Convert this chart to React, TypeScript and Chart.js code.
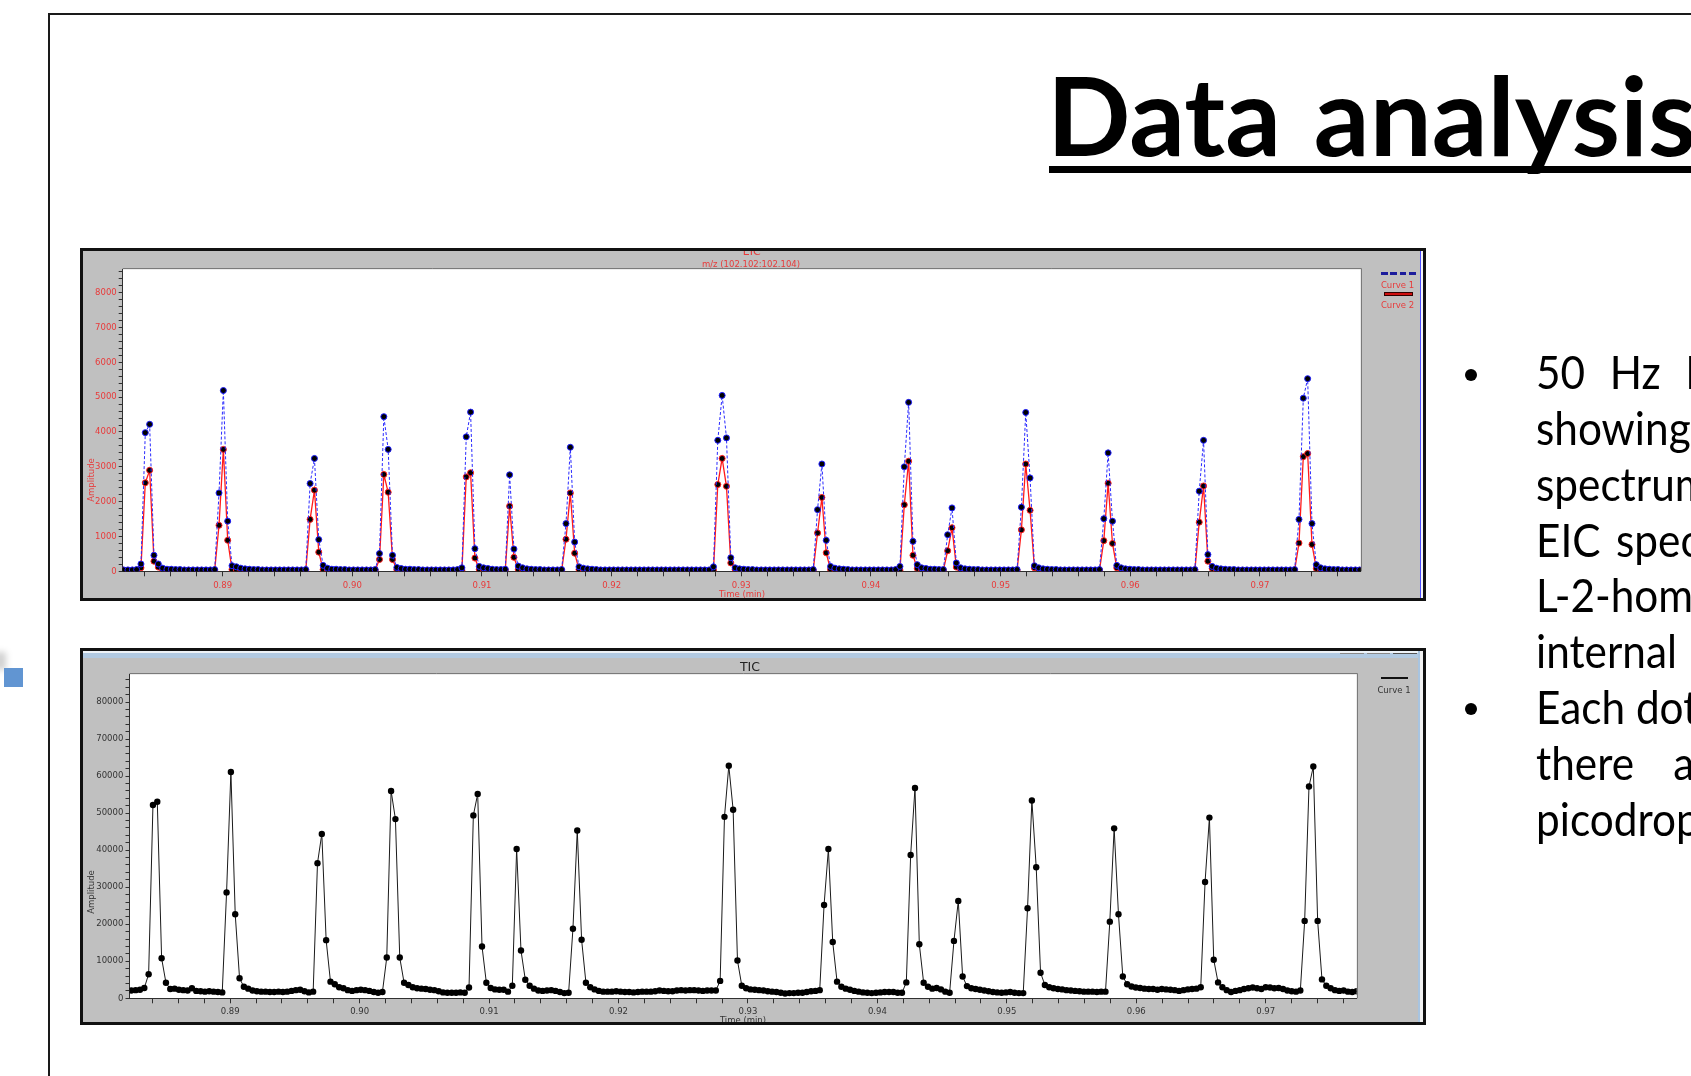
import React, { useEffect, useRef } from 'react';
import { Chart, registerables } from 'chart.js';

Chart.register(...registerables);

// ---- sampling grid (one scan every ~0.02 s) ----
const SAMPLE_START = 0.88236; // min
const SAMPLE_STEP = 0.0003345; // min

// ---- EIC m/z (102.102:102.104) ----
const eicCurve1 = [
  40, 40, 40, 50, 210, 3980, 4220, 460, 210, 90,
  60, 60, 50, 50, 40, 40, 40, 40, 40, 40,
  40, 50, 2250, 5190, 1440, 160, 130, 90, 70, 60,
  50, 50, 40, 40, 40, 40, 40, 40, 40, 40,
  40, 40, 50, 2520, 3240, 910, 170, 90, 60, 60,
  50, 50, 40, 40, 40, 40, 40, 40, 50, 510,
  4440, 3500, 460, 110, 80, 60, 60, 50, 50, 40,
  40, 40, 40, 40, 40, 40, 40, 50, 100, 3860,
  4570, 650, 140, 100, 80, 60, 50, 50, 60, 2770,
  640, 150, 100, 70, 60, 50, 50, 40, 40, 40,
  40, 50, 1370, 3560, 840, 130, 90, 70, 60, 50,
  40, 40, 40, 40, 40, 40, 40, 40, 40, 40,
  40, 40, 40, 40, 40, 40, 40, 40, 40, 40,
  40, 40, 40, 40, 40, 40, 130, 3760, 5050, 3830,
  390, 100, 70, 60, 50, 50, 40, 40, 40, 40,
  40, 40, 40, 40, 40, 40, 40, 40, 40, 50,
  1770, 3080, 890, 140, 90, 70, 60, 50, 40, 40,
  40, 40, 40, 40, 40, 40, 40, 40, 50, 140,
  3000, 4850, 860, 190, 100, 80, 60, 60, 50, 50,
  1050, 1820, 240, 100, 70, 60, 50, 50, 40, 40,
  40, 40, 40, 40, 40, 40, 50, 1840, 4560, 2680,
  160, 100, 70, 60, 50, 50, 40, 40, 40, 40,
  40, 40, 40, 40, 40, 50, 1510, 3400, 1440, 170,
  100, 70, 60, 50, 50, 40, 40, 40, 40, 40,
  40, 40, 40, 40, 40, 40, 40, 50, 2300, 3760,
  480, 140, 90, 70, 60, 50, 50, 40, 40, 40,
  40, 40, 40, 40, 40, 40, 40, 40, 40, 40,
  50, 1490, 4970, 5530, 1370, 190, 100, 70, 60, 50,
  50, 40, 40, 40, 40, 40,
];

const eicCurve2 = [
  30, 30, 30, 30, 100, 2540, 2900, 290, 120, 40,
  30, 30, 30, 30, 30, 30, 30, 30, 30, 30,
  30, 30, 1320, 3500, 890, 50, 40, 30, 30, 30,
  30, 30, 30, 30, 30, 30, 30, 30, 30, 30,
  30, 30, 30, 1490, 2330, 550, 50, 40, 30, 30,
  30, 30, 30, 30, 30, 30, 30, 30, 30, 340,
  2780, 2270, 340, 50, 40, 30, 30, 30, 30, 30,
  30, 30, 30, 30, 30, 30, 30, 30, 30, 2710,
  2830, 380, 50, 40, 30, 30, 30, 30, 30, 1870,
  400, 50, 40, 30, 30, 30, 30, 30, 30, 30,
  30, 30, 920, 2250, 520, 50, 40, 30, 30, 30,
  30, 30, 30, 30, 30, 30, 30, 30, 30, 30,
  30, 30, 30, 30, 30, 30, 30, 30, 30, 30,
  30, 30, 30, 30, 30, 30, 30, 2490, 3240, 2440,
  240, 50, 40, 30, 30, 30, 30, 30, 30, 30,
  30, 30, 30, 30, 30, 30, 30, 30, 30, 30,
  1100, 2120, 530, 50, 40, 30, 30, 30, 30, 30,
  30, 30, 30, 30, 30, 30, 30, 30, 30, 30,
  1910, 3160, 460, 80, 40, 30, 30, 30, 30, 30,
  590, 1250, 120, 40, 30, 30, 30, 30, 30, 30,
  30, 30, 30, 30, 30, 30, 30, 1190, 3080, 1750,
  100, 40, 30, 30, 30, 30, 30, 30, 30, 30,
  30, 30, 30, 30, 30, 30, 880, 2530, 800, 100,
  40, 30, 30, 30, 30, 30, 30, 30, 30, 30,
  30, 30, 30, 30, 30, 30, 30, 30, 1410, 2450,
  290, 80, 40, 30, 30, 30, 30, 30, 30, 30,
  30, 30, 30, 30, 30, 30, 30, 30, 30, 30,
  30, 810, 3290, 3380, 770, 80, 40, 30, 30, 30,
  30, 30, 30, 30, 30, 30,
];

// ---- TIC ----
const ticCurve1 = [
  2100, 2200, 2300, 2800, 6500, 52200, 53100, 10800, 4200, 2500,
  2600, 2300, 2200, 2100, 2700, 2000, 1900, 1800, 1900, 1800,
  1700, 1600, 28600, 61100, 22700, 5400, 3100, 2600, 2100, 1900,
  1800, 1800, 1700, 1700, 1800, 1700, 1800, 2000, 2200, 2300,
  1900, 1600, 1800, 36500, 44400, 15700, 4500, 3800, 3000, 2700,
  2200, 2000, 2200, 2300, 2200, 2000, 1700, 1500, 1700, 11000,
  56000, 48400, 11000, 4200, 3600, 3000, 2700, 2600, 2500, 2300,
  2200, 1900, 1600, 1500, 1500, 1500, 1600, 1500, 2900, 49400,
  55200, 14000, 4200, 2800, 2400, 2300, 2300, 1800, 3400, 40300,
  12900, 5000, 3400, 2600, 2100, 2000, 2100, 2200, 2000, 1700,
  1400, 1500, 18800, 45300, 15800, 4200, 3000, 2400, 2000, 1800,
  1800, 1800, 1900, 1800, 1700, 1700, 1600, 1700, 1800, 1800,
  1800, 1900, 2100, 2000, 1900, 1900, 2100, 2200, 2100, 2200,
  2200, 2100, 2000, 2100, 2100, 2100, 4700, 49000, 62800, 50900,
  10200, 3400, 2700, 2400, 2300, 2200, 2100, 1900, 1800, 1700,
  1500, 1300, 1400, 1400, 1500, 1500, 1700, 1900, 2000, 2200,
  25200, 40300, 15200, 4500, 3100, 2600, 2300, 2000, 1800, 1600,
  1500, 1400, 1500, 1600, 1700, 1700, 1700, 1500, 1500, 4300,
  38700, 56800, 14600, 4200, 3100, 2600, 2800, 2400, 1800, 1500,
  15500, 26300, 5900, 3300, 2700, 2500, 2300, 2100, 1900, 1700,
  1600, 1500, 1600, 1700, 1500, 1400, 1400, 24300, 53400, 35400,
  6900, 3600, 3000, 2700, 2500, 2400, 2200, 2100, 2000, 1900,
  1800, 1800, 1800, 1700, 1800, 1800, 20700, 45900, 22700, 5900,
  3800, 3200, 2900, 2800, 2600, 2500, 2500, 2300, 2500, 2400,
  2300, 2200, 2000, 2200, 2400, 2500, 2600, 3000, 31400, 48800,
  10400, 4300, 3000, 2200, 1700, 2000, 2200, 2500, 2700, 2900,
  2700, 2500, 3000, 2900, 2700, 2800, 2500, 2100, 1900, 1800,
  2100, 20900, 57200, 62600, 20900, 5100, 3400, 2700, 2200, 2000,
  2100, 1800, 1700, 1900, 1800, 1800,
];

// ---- axes ----
const EIC_TIME_RANGE = [0.88229, 0.97777];
const TIC_TIME_RANGE = [0.88222, 0.97703];
const TIME_MINOR_STEP = 0.002;
const EIC_AMP_MAX = 8670;
const EIC_AMP_MINOR = 200;
const EIC_AMP_LABELS = [0, 1000, 2000, 3000, 4000, 5000, 6000, 7000, 8000];
const TIC_AMP_MAX = 87500;
const TIC_AMP_MINOR = 2000;
const TIC_AMP_LABELS = [0, 10000, 20000, 30000, 40000, 50000, 60000, 70000, 80000];

const RED = '#e83a3a';
const DARK = '#333333';
const AXIS_FONT = 'DejaVu Sans';

function toPoints(values: number[]) {
  return values.map((v, i) => ({ x: SAMPLE_START + i * SAMPLE_STEP, y: v }));
}

const plotFrame = {
  id: 'plotFrame',
  beforeDraw(chart: any) {
    const { ctx, chartArea: a } = chart;
    ctx.save();
    ctx.fillStyle = '#c0c0c0';
    ctx.fillRect(0, 0, chart.width, chart.height);
    ctx.fillStyle = '#ffffff';
    ctx.fillRect(a.left, a.top, a.right - a.left, a.bottom - a.top);
    ctx.strokeStyle = '#7a7a7a';
    ctx.lineWidth = 1;
    ctx.beginPath();
    ctx.moveTo(a.left, Math.round(a.top) - 0.5);
    ctx.lineTo(Math.round(a.right) + 0.5, Math.round(a.top) - 0.5);
    ctx.lineTo(Math.round(a.right) + 0.5, a.bottom);
    ctx.stroke();
    ctx.restore();
  },
};

function timeAxis(range: number[], color: string, tickLength: number, padding: number) {
  return {
    type: 'linear',
    position: 'bottom',
    min: range[0],
    max: range[1],
    afterFit: (s: any) => {
      s.height = 20;
    },
    border: { display: true, color: '#303030', width: 1 },
    grid: { display: true, drawOnChartArea: false, drawTicks: true, tickLength, tickColor: '#303030', tickWidth: 1 },
    ticks: {
      stepSize: TIME_MINOR_STEP,
      autoSkip: false,
      includeBounds: false,
      maxRotation: 0,
      minRotation: 0,
      padding,
      color,
      font: { family: AXIS_FONT, size: 8.5 },
      callback: (v: any) => (Math.abs(v * 100 - Math.round(v * 100)) < 1e-6 ? Number(v).toFixed(2) : ''),
    },
  };
}

function ampAxis(max: number, minor: number, labels: number[], width: number, color: string, padding: number) {
  return {
    type: 'linear',
    position: 'left',
    min: 0,
    max,
    afterFit: (s: any) => {
      s.width = width;
    },
    afterBuildTicks: (s: any) => {
      const t: any[] = [];
      for (let v = 0; v <= max; v += minor) t.push({ value: v });
      s.ticks = t;
    },
    border: { display: true, color: '#303030', width: 1 },
    grid: { display: true, drawOnChartArea: false, drawTicks: true, tickLength: 4, tickColor: '#303030', tickWidth: 1 },
    ticks: {
      autoSkip: false,
      padding,
      color,
      font: { family: AXIS_FONT, size: 8.5 },
      callback: (v: any) => {
        const n = Math.round(Number(v));
        return labels.indexOf(n) >= 0 ? String(n) : '';
      },
    },
  };
}

function eicConfig(): any {
  return {
    type: 'line',
    data: {
      datasets: [
        {
          label: 'Curve 1',
          data: toPoints(eicCurve1),
          borderColor: '#2a2aff',
          borderWidth: 1,
          borderDash: [3, 2],
          pointRadius: 3,
          pointBackgroundColor: '#000000',
          pointBorderColor: '#2020ff',
          pointBorderWidth: 1,
          tension: 0,
          fill: false,
        },
        {
          label: 'Curve 2',
          data: toPoints(eicCurve2),
          borderColor: '#ff1a1a',
          borderWidth: 1.3,
          pointRadius: 3,
          pointBackgroundColor: '#000000',
          pointBorderColor: '#ff2020',
          pointBorderWidth: 1,
          tension: 0,
          fill: false,
        },
      ],
    },
    options: {
      animation: false,
      responsive: false,
      events: [],
      layout: { padding: { left: 0, top: 18.3, right: 62.3, bottom: 6.7 } },
      plugins: { legend: { display: false }, tooltip: { enabled: false }, title: { display: false } },
      scales: {
        x: timeAxis(EIC_TIME_RANGE, RED, 5, 4),
        y: ampAxis(EIC_AMP_MAX, EIC_AMP_MINOR, EIC_AMP_LABELS, 39.7, RED, 2),
      },
    },
    plugins: [plotFrame],
  };
}

function ticConfig(): any {
  return {
    type: 'line',
    data: {
      datasets: [
        {
          label: 'Curve 1',
          data: toPoints(ticCurve1),
          borderColor: '#1a1a1a',
          borderWidth: 1,
          pointRadius: 3.2,
          pointBackgroundColor: '#000000',
          pointBorderWidth: 0,
          tension: 0,
          fill: false,
        },
      ],
    },
    options: {
      animation: false,
      responsive: false,
      events: [],
      layout: { padding: { left: 0, top: 23.3, right: 66.3, bottom: 3.7 } },
      plugins: { legend: { display: false }, tooltip: { enabled: false }, title: { display: false } },
      scales: {
        x: timeAxis(TIC_TIME_RANGE, DARK, 5, 3),
        y: ampAxis(TIC_AMP_MAX, TIC_AMP_MINOR, TIC_AMP_LABELS, 46.5, DARK, 2.2),
      },
    },
    plugins: [plotFrame],
  };
}

const abs = (s: any): any => ({ position: 'absolute', whiteSpace: 'nowrap', ...s });

function Label({ cx, cy, text, size = 8.5, color, rotate = false, font = AXIS_FONT }: any) {
  const w = 160;
  const h = 14;
  return (
    <div
      style={abs({
        left: cx - w / 2,
        top: cy - h / 2,
        width: w,
        height: h,
        lineHeight: h + 'px',
        textAlign: 'center',
        fontFamily: font,
        fontSize: size,
        color,
        transform: rotate ? 'rotate(-90deg)' : undefined,
      })}
    >
      {text}
    </div>
  );
}

const BULLET_LINES = [
  { text: '50 Hz I', ws: 15 },
  { text: 'showing', ws: 0 },
  { text: 'spectrum', ws: 0 },
  { text: 'EIC spectrum', ws: 5 },
  { text: 'L-2-homoserine', ws: 0 },
  { text: 'internal', ws: 0 },
  { text: 'Each dot', ws: 0 },
  { text: 'there are', ws: 31 },
  { text: 'picodroplets', ws: 0 },
];

export default function App() {
  const eicRef = useRef<HTMLCanvasElement>(null);
  const ticRef = useRef<HTMLCanvasElement>(null);

  useEffect(() => {
    const c1 = new Chart(eicRef.current as HTMLCanvasElement, eicConfig());
    const c2 = new Chart(ticRef.current as HTMLCanvasElement, ticConfig());
    return () => {
      c1.destroy();
      c2.destroy();
    };
  }, []);

  const lineBase = 390;
  const pitch = 55.8;

  return (
    <div style={{ position: 'fixed', left: 0, top: 0, width: 1691, height: 1076, overflow: 'hidden', background: '#fff' }}>
      {/* slide frame */}
      <div style={abs({ left: 48.3, top: 13.3, width: 1700, height: 2, background: '#1a1a1a' })} />
      <div style={abs({ left: 48.3, top: 13.3, width: 2, height: 1100, background: '#1a1a1a' })} />

      {/* stray marker at left */}
      <div style={abs({ left: -6, top: 652, width: 12, height: 18, background: 'rgba(0,0,0,0.18)', filter: 'blur(3px)' })} />
      <div style={abs({ left: 4, top: 668, width: 19, height: 19, background: '#6195d2' })} />

      {/* title */}
      <div
        style={abs({
          left: 1047,
          top: 58.4,
          fontFamily: 'Lato',
          fontWeight: 700,
          fontSize: 110,
          lineHeight: '110px',
          color: '#000',
          wordSpacing: 6,
        })}
      >
        Data analysis
      </div>
      <div style={abs({ left: 1049, top: 166, width: 700, height: 7, background: '#000' })} />

      {/* bullets */}
      <div style={abs({ left: 1465, top: 368.5, width: 12, height: 12, borderRadius: '50%', background: '#000' })} />
      <div style={abs({ left: 1465, top: 703, width: 12, height: 12, borderRadius: '50%', background: '#000' })} />
      {BULLET_LINES.map((l, i) => (
        <div
          key={i}
          style={abs({
            left: 1536,
            top: lineBase + i * pitch - 45.8,
            fontFamily: 'Lato',
            fontSize: 46,
            lineHeight: '56px',
            color: '#000',
            transform: 'scaleX(0.92)',
            transformOrigin: '0 0',
            wordSpacing: l.ws,
          })}
        >
          {l.text}
        </div>
      ))}

      {/* EIC panel */}
      <div
        style={abs({
          left: 80,
          top: 248,
          width: 1346,
          height: 353,
          border: '3px solid #111',
          boxSizing: 'border-box',
          background: '#c0c0c0',
          overflow: 'hidden',
        })}
      >
        <canvas ref={eicRef} width={1340} height={347} style={{ position: 'absolute', left: 0, top: 0, width: 1340, height: 347, display: 'block' }} />
        <Label cx={668.7} cy={1} text="EIC" size={11} color={RED} />
        <Label cx={668} cy={13.2} text="m/z (102.102:102.104)" color={RED} />
        <Label cx={7.5} cy={228.7} text="Amplitude" color={RED} rotate />
        <Label cx={659} cy={342.5} text="Time (min)" color={RED} />
        {/* legend */}
        <div
          style={abs({
            left: 1297.7,
            top: 21.4,
            width: 35.3,
            height: 2.6,
            background: 'repeating-linear-gradient(to right, #1c1c9c 0px, #1c1c9c 6.6px, transparent 6.6px, transparent 9.3px)',
          })}
        />
        <Label cx={1314.5} cy={33.7} text="Curve 1" color={RED} />
        <div style={abs({ left: 1301, top: 41, width: 28.7, height: 4, boxSizing: 'border-box', background: '#d01010', border: '1px solid #300' })} />
        <Label cx={1314.5} cy={53.7} text="Curve 2" color={RED} />
        <div style={abs({ left: 1336.5, top: 0, width: 1.5, height: 347, background: '#4a4aff' })} />
        <div style={abs({ left: 1338, top: 0, width: 2, height: 347, background: '#f4f4f4' })} />
      </div>

      {/* TIC panel */}
      <div
        style={abs({
          left: 80,
          top: 648,
          width: 1346,
          height: 377,
          border: '3px solid #111',
          boxSizing: 'border-box',
          background: '#c0c0c0',
          overflow: 'hidden',
        })}
      >
        <canvas ref={ticRef} width={1340} height={371} style={{ position: 'absolute', left: 0, top: 0, width: 1340, height: 371, display: 'block' }} />
        <div style={abs({ left: 0, top: 0, width: 1340, height: 2, background: '#eef3f8' })} />
        <div style={abs({ left: 0, top: 2, width: 1340, height: 4.5, background: '#b2cae2' })} />
        <div style={abs({ left: 1257, top: 2.3, width: 24, height: 1, background: '#8a8a8a' })} />
        <div style={abs({ left: 1284, top: 2.3, width: 23, height: 1, background: '#8a8a8a' })} />
        <div style={abs({ left: 1310, top: 2.3, width: 24, height: 1, background: '#555' })} />
        <Label cx={667} cy={15.7} text="TIC" size={12.5} color="#222" />
        <Label cx={7.5} cy={241} text="Amplitude" color={DARK} rotate />
        <Label cx={660} cy={369} text="Time (min)" color={DARK} />
        <div style={abs({ left: 1297.7, top: 26.3, width: 27.3, height: 2, background: '#111' })} />
        <Label cx={1311} cy={39} text="Curve 1" color={DARK} />
        <div style={abs({ left: 1334.7, top: 0, width: 2.3, height: 371, background: '#a8c4e0' })} />
        <div style={abs({ left: 1337, top: 0, width: 3, height: 371, background: '#f2f2f2' })} />
      </div>
    </div>
  );
}
